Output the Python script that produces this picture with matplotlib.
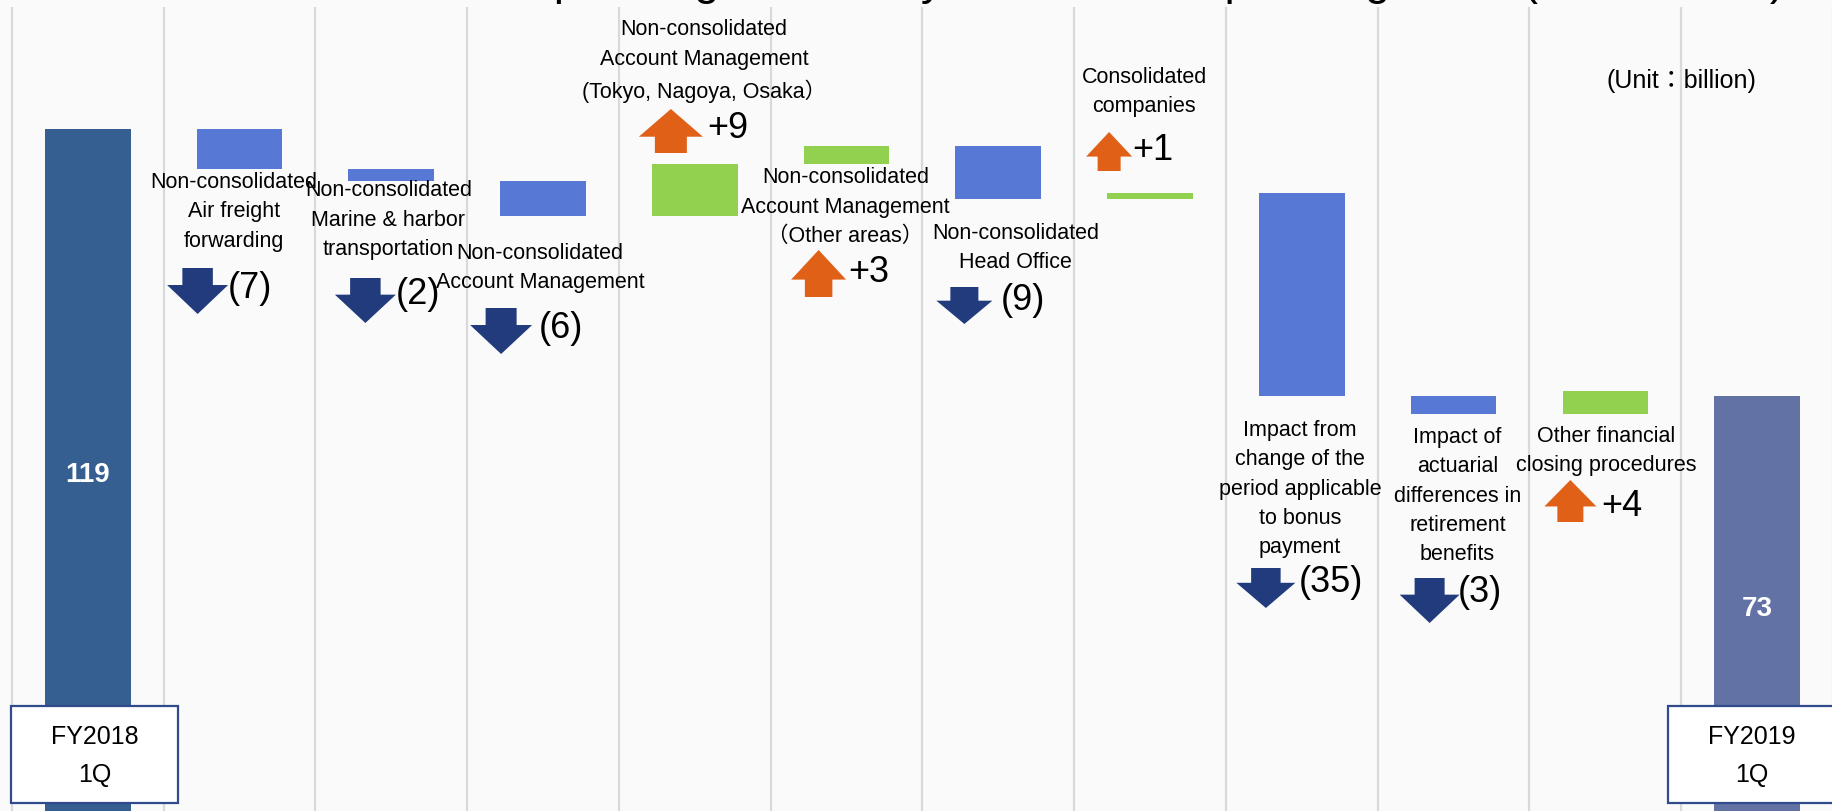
import matplotlib
matplotlib.use("Agg")
import matplotlib.pyplot as plt
from matplotlib.patches import Polygon, Rectangle
import numpy as np

# operating income walk, billion yen
categories = ["FY2018\n1Q",
              "Non-consolidated\nAir freight\nforwarding",
              "Non-consolidated\nMarine & harbor\ntransportation",
              "Non-consolidated\nAccount Management",
              "Non-consolidated\nAccount Management\n(Tokyo, Nagoya, Osaka）",
              "Non-consolidated\nAccount Management\n（Other areas）",
              "Non-consolidated\nHead Office",
              "Consolidated\ncompanies",
              "Impact from\nchange of the\nperiod applicable\nto bonus\npayment",
              "Impact of\nactuarial\ndifferences in\nretirement\nbenefits",
              "Other financial\nclosing procedures",
              "FY2019\n1Q"]
start_total = 119
end_total = 73
changes = [-7, -2, -6, 9, 3, -9, 1, -35, -3, 4]

title = "Operating Income by Factor and Operating Profit (vs. FY2018)"
unit_note = "(Unit：billion)"

# colours
BG = "#FAFAFA"
GRID = "#D9D9D9"
START_C = "#365F91"
END_C = "#6272A5"
DOWN_C = "#5779D5"
UP_C = "#92D050"
ARROW_DOWN = "#213B7D"
ARROW_UP = "#E06018"
BOX_EDGE = "#2F4B8C"

FONT = ["Liberation Sans", "Noto Sans CJK JP", "DejaVu Sans"]

# annotation layout per step, in pixels:
# label x offset, label centre y, arrow x offset, arrow top, arrow w, arrow h, number x offset, number y
layout = [
    (-6, 212, -42, 268, 61, 46, -12, 288),
    (-3, 220, -26, 278, 61, 45, 4, 295),
    (-3, 268, -42, 308, 62, 46, -4, 328),
    (9, 61, -24, 109, 64, 44, 12, 128),
    (-1, 207, -28, 250, 55, 47, 2, 273),
    (17, 248, -34, 287, 56, 37, 2, 300),
    (-6, 92, -41, 132, 46, 39, -18, 150),
    (-2, 489, -36, 568, 59, 40, -3, 583),
    (4, 496, -24, 578, 60, 45, 4, 593),
    (1, 451, -35, 480, 52, 42, -4, 507),
]

W, H = 1833, 811
fig = plt.figure(figsize=(W / 100, H / 100), dpi=100, facecolor=BG)
ax = fig.add_axes([0, 0, 1, 1 - 7 / H])
ax.set_facecolor(BG)
ax.set_xlim(-0.579, 11.48)
ax.set_ylim(1.8, 139.9)
for s in ax.spines.values():
    s.set_visible(False)
ax.set_xticks(np.arange(-0.5, 12, 1))
ax.set_yticks([])
ax.tick_params(length=0, labelbottom=False)
ax.grid(axis="x", color=GRID, lw=1.6)
ax.set_axisbelow(True)

bw = 0.565
ax.bar(0, start_total, width=bw, color=START_C)
level = start_total
for i, v in enumerate(changes, start=1):
    ax.bar(i, v, bottom=level, width=bw, color=UP_C if v > 0 else DOWN_C)
    level += v
ax.bar(len(categories) - 1, end_total, width=bw, color=END_C)

ax.text(0, start_total / 2, str(start_total), ha="center", va="center",
        color="white", fontsize=20, fontweight="bold", family=FONT)
ax.text(len(categories) - 1, end_total / 2, str(end_total), ha="center", va="center",
        color="white", fontsize=20, fontweight="bold", family=FONT)


def fx(px):
    return px / W


def fy(py):
    return 1 - py / H


def centre_px(i):
    return ax.transData.transform((i, 0))[0]


def arrow(cx, top, w, h, up, color):
    k = 0.63
    if up:
        pts = [(cx, top), (cx + w / 2, top + k * h), (cx + w / 4, top + k * h),
               (cx + w / 4, top + h), (cx - w / 4, top + h), (cx - w / 4, top + k * h),
               (cx - w / 2, top + k * h)]
    else:
        pts = [(cx - w / 4, top), (cx + w / 4, top), (cx + w / 4, top + (1 - k) * h),
               (cx + w / 2, top + (1 - k) * h), (cx, top + h),
               (cx - w / 2, top + (1 - k) * h), (cx - w / 4, top + (1 - k) * h)]
    fig.patches.append(Polygon([(fx(x), fy(y)) for x, y in pts], closed=True,
                               transform=fig.transFigure, facecolor=color,
                               edgecolor="none", figure=fig))


for i, v in enumerate(changes, start=1):
    ldx, lcy, adx, atop, aw, ah, ndx, ncy = layout[i - 1]
    c = centre_px(i)
    fig.text(fx(c + ldx), fy(lcy), categories[i], ha="center", va="center",
             multialignment="center", fontsize=15.5, family=FONT, linespacing=1.52)
    arrow(c + adx, atop, aw, ah, v > 0, ARROW_UP if v > 0 else ARROW_DOWN)
    num = f"+{v}" if v > 0 else f"({-v})"
    fig.text(fx(c + ndx), fy(ncy), num, ha="left", va="center",
             fontsize=26, family=FONT)

# period boxes under the totals
for i, dx in ((0, 6.5), (len(categories) - 1, -5.5)):
    c = centre_px(i) + dx
    fig.patches.append(Rectangle((fx(c - 83.5), fy(803)), 167 / W, 97 / H,
                                 transform=fig.transFigure, facecolor="white",
                                 edgecolor=BOX_EDGE, lw=1.6, figure=fig))
    fig.text(fx(c), fy(756), categories[i], ha="center", va="center",
             multialignment="center", fontsize=18, family=FONT, linespacing=1.7)

fig.text(fx(1681), fy(81), unit_note, ha="center", va="center",
         fontsize=18, family=FONT)

# heading sits above the canvas edge
fig.text(fx(518), 1 + 6 / H, title, ha="left", va="baseline",
         fontsize=33, family=["Liberation Sans", "DejaVu Sans"])

fig.savefig("out.png", dpi=100, facecolor=BG)
